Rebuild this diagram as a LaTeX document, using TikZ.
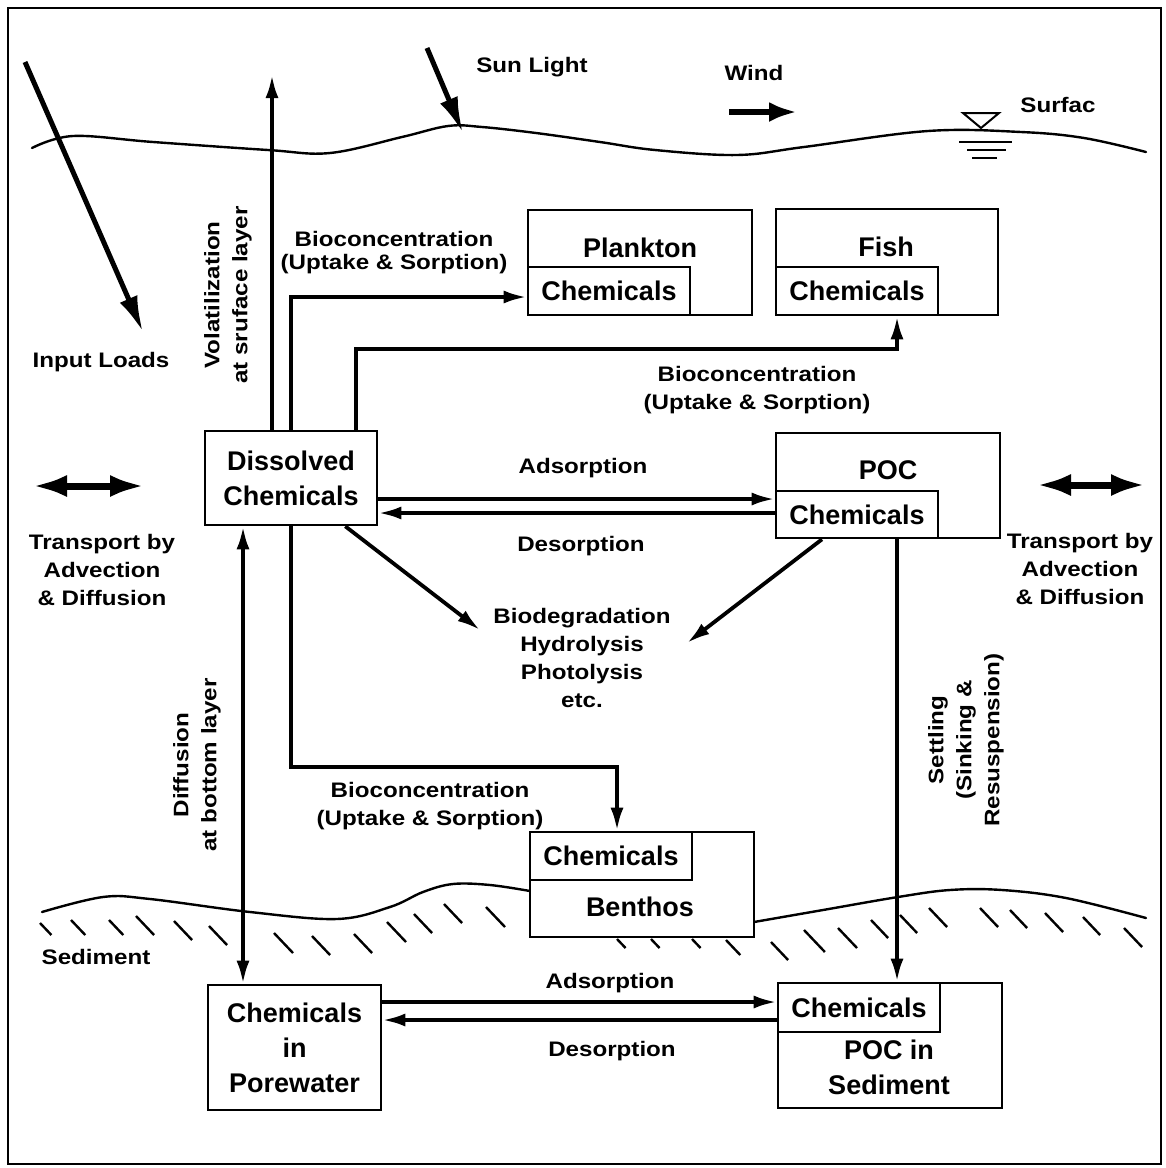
\documentclass[tikz,border=0pt]{standalone}
\usepackage{fontspec}
\setmainfont{Liberation Sans}
\newfontfamily\labelfont{Liberation Sans}[FakeStretch=1.15]
\usetikzlibrary{arrows.meta}

\begin{document}
\begin{tikzpicture}
  [x=1pt,y=-1pt,line join=miter,
   every node/.style={inner sep=0pt,align=center},
   lbl/.style={font=\labelfont\bfseries\fontsize{21}{28}\selectfont},
   boxtxt/.style={font=\bfseries\fontsize{27}{35}\selectfont},
   outerbox/.style={draw,line width=2.6pt,fill=white},
   chembox/.style={draw,line width=2.6pt,fill=white,minimum width=162pt,minimum height=48pt,
     font=\bfseries\fontsize{27}{35}\selectfont},
   arr/.style={line width=3.8pt,-{Latex[length=23pt,width=13pt]}},
   darr/.style={line width=3.8pt,{Latex[length=23pt,width=13pt]}-{Latex[length=23pt,width=13pt]}},
   bigarr/.style={line width=5pt,-{Latex[length=36pt,width=19pt]}},
   transarr/.style={line width=7pt,{Latex[length=35pt,width=22pt]}-{Latex[length=35pt,width=22pt]}},
   ground/.style={line width=2.4pt,line cap=round},
   hatch/.style={line width=2.4pt}]
  \useasboundingbox (0,0) rectangle (1166,1168);
  \draw[line width=2.4pt] (8,8) rectangle (1161,1164);

  % water surface
  \draw[ground] plot[smooth,tension=0.6] coordinates {(32,148) (73,136) (153,142) (268,150)
    (330,153) (402,137) (448,126) (482,127) (536,133) (600,142) (655,150)
    (737,155) (804,147) (928,131) (1021,132) (1084,138) (1146,152)};
  \draw[line width=2pt] (963,113) -- (999,113) -- (981,128) -- cycle;
  \draw[line width=2pt] (959,142) -- (1012,142) (967,150) -- (1006,150) (972,158) -- (997,158);
  \node[lbl] (surflbl) at (1058,105) {Surfac};

  % sediment surface
  \draw[ground] plot[smooth,tension=0.6] coordinates {(42,912) (103,897) (150,899) (250,912)
    (337,919) (390,907) (423,892) (453,884) (490,885) (530,891)};
  \draw[ground] plot[smooth,tension=0.6] coordinates {(754,922) (823,910) (898,897) (950,890)
    (1002,890) (1066,898) (1146,918)};
  \foreach \x/\y/\l in {40/923/12, 71/920/15, 109/920/15, 136/916/19, 174/921/19, 209/926/19,
    274/933/20, 312/936/19, 354/934/19, 387/922/20, 414/914/19, 444/904/19, 486/907/20,
    617/939/9, 651/939/9, 692/939/9, 726/940/15, 771/942/18, 804/930/22, 838/928/20,
    871/920/18, 900/915/18, 929/908/19, 980/908/19, 1010/910/18, 1045/913/19,
    1083/917/18, 1124/928/19}
    \draw[hatch] (\x,\y) -- ++(0.95*\l,\l);
  \node[lbl] (sedlbl) at (96,957) {Sediment};

  % compartments
  \node[outerbox,minimum width=172pt,minimum height=94pt,boxtxt] (diss) at (291,478)
    {Dissolved\\Chemicals};
  \node[outerbox,minimum width=224pt,minimum height=105pt] (plank) at (640,262.5) {};
  \node[chembox,anchor=south west] (plankchem) at (plank.south west) {Chemicals};
  \node[boxtxt] (planklbl) at (640,248) {Plankton};
  \node[outerbox,minimum width=222pt,minimum height=106pt] (fish) at (887,262) {};
  \node[chembox,anchor=south west] (fishchem) at (fish.south west) {Chemicals};
  \node[boxtxt] (fishlbl) at (886,247) {Fish};
  \node[outerbox,minimum width=224pt,minimum height=105pt] (poc) at (888,485.5) {};
  \node[chembox,anchor=south west,minimum height=47pt] (pocchem) at (poc.south west) {Chemicals};
  \node[boxtxt] (poclbl) at (888,470) {POC};
  \node[outerbox,minimum width=224pt,minimum height=105pt] (benth) at (642,884.5) {};
  \node[chembox,anchor=north west] (benthchem) at (benth.north west) {Chemicals};
  \node[boxtxt] (benthlbl) at (640,907) {Benthos};
  \node[outerbox,minimum width=173pt,minimum height=125pt,boxtxt] (pore) at (294.5,1047.5)
    {Chemicals\\in\\Porewater};
  \node[outerbox,minimum width=224pt,minimum height=125pt] (sedpoc) at (890,1045.5) {};
  \node[chembox,anchor=north west,minimum height=49pt] (sedchem) at (sedpoc.north west) {Chemicals};
  \node[boxtxt] (sedpoclbl) at (889,1067) {POC in\\Sediment};

  % loads, light, wind
  \coordinate (inA) at (25,62);
  \coordinate (inB) at (143,332);
  \draw[bigarr] (inA) -- (inB);
  \node[lbl] (inlbl) at (101,362) {Input Loads};
  \coordinate (sunA) at (427,48);
  \coordinate (sunB) at (463,133);
  \draw[bigarr] (sunA) -- (sunB);
  \node[lbl] (sunlbl) at (532,67) {Sun Light};
  \coordinate (windA) at (729,112);
  \coordinate (windB) at (797,112);
  \draw[line width=5.5pt,-{Latex[length=28pt,width=20pt]}] (windA) -- (windB);
  \node[lbl] (windlbl) at (754,73) {Wind};

  % transport
  \coordinate (trLA) at (32,486);
  \coordinate (trLB) at (145,486);
  \draw[transarr] (trLA) -- (trLB);
  \node[lbl] (trLlbl) at (102,570) {Transport by\\Advection\\\& Diffusion};
  \coordinate (trRA) at (1036,485);
  \coordinate (trRB) at (1146,485);
  \draw[transarr] (trRA) -- (trRB);
  \node[lbl] (trRlbl) at (1080,569) {Transport by\\Advection\\\& Diffusion};

  % volatilization
  \coordinate (voltop) at (272,75);
  \draw[arr] (diss.north -| voltop) -- (voltop);
  \node[lbl,rotate=90] (vollbl) at (228,295) {Volatilization\\at sruface layer};

  % bioconcentration
  \draw[arr] (diss.north) |- ([yshift=-6pt]plankchem.west);
  \node[lbl,font=\labelfont\bfseries\fontsize{21}{23}\selectfont] (bioP) at (394,253)
    {Bioconcentration\\(Uptake \& Sorption)};
  \coordinate (fishturn) at (897,349);
  \draw[arr] ([xshift=65pt]diss.north) |- (fishturn) -- (fishturn |- fishchem.south);
  \node[lbl] (bioF) at (757,390) {Bioconcentration\\(Uptake \& Sorption)};
  \coordinate (benturn) at (617,767);
  \draw[arr] (diss.south) |- (benturn) -- (benturn |- benthchem.north);
  \node[lbl] (bioB) at (430,806) {Bioconcentration\\(Uptake \& Sorption)};

  % sorption in water
  \coordinate (adsy) at (0,499);
  \coordinate (desy) at (0,513);
  \draw[arr] (diss.east |- adsy) -- (pocchem.west |- adsy);
  \draw[arr] (pocchem.west |- desy) -- (diss.east |- desy);
  \node[lbl] (adslbl) at (583,468) {Adsorption};
  \node[lbl] (deslbl) at (581,546) {Desorption};

  % degradation
  \coordinate (degrA) at (480,630);
  \coordinate (degrB) at (687,643);
  \draw[arr] ([xshift=-33pt]diss.south east) -- (degrA);
  \draw[arr] ([xshift=-35pt]pocchem.south) -- (degrB);
  \node[lbl] (degr) at (582,658) {Biodegradation\\Hydrolysis\\Photolysis\\etc.};

  % diffusion and settling
  \coordinate (difx) at (243,0);
  \draw[darr] (diss.south -| difx) -- (pore.north -| difx);
  \node[lbl,rotate=90] (diflbl) at (197,765) {Diffusion\\at bottom layer};
  \coordinate (setx) at (897,0);
  \draw[arr] (poc.south -| setx) -- (sedpoc.north -| setx);
  \node[lbl,rotate=90] (setlbl) at (966,740) {Settling\\(Sinking \&\\Resuspension)};

  % sorption in sediment
  \coordinate (adsy2) at (0,1002);
  \coordinate (desy2) at (0,1020);
  \draw[arr] (pore.east |- adsy2) -- (sedchem.west |- adsy2);
  \draw[arr] (sedchem.west |- desy2) -- (pore.east |- desy2);
  \node[lbl] (adslbl2) at (610,983) {Adsorption};
  \node[lbl] (deslbl2) at (612,1051) {Desorption};
\end{tikzpicture}
\end{document}
